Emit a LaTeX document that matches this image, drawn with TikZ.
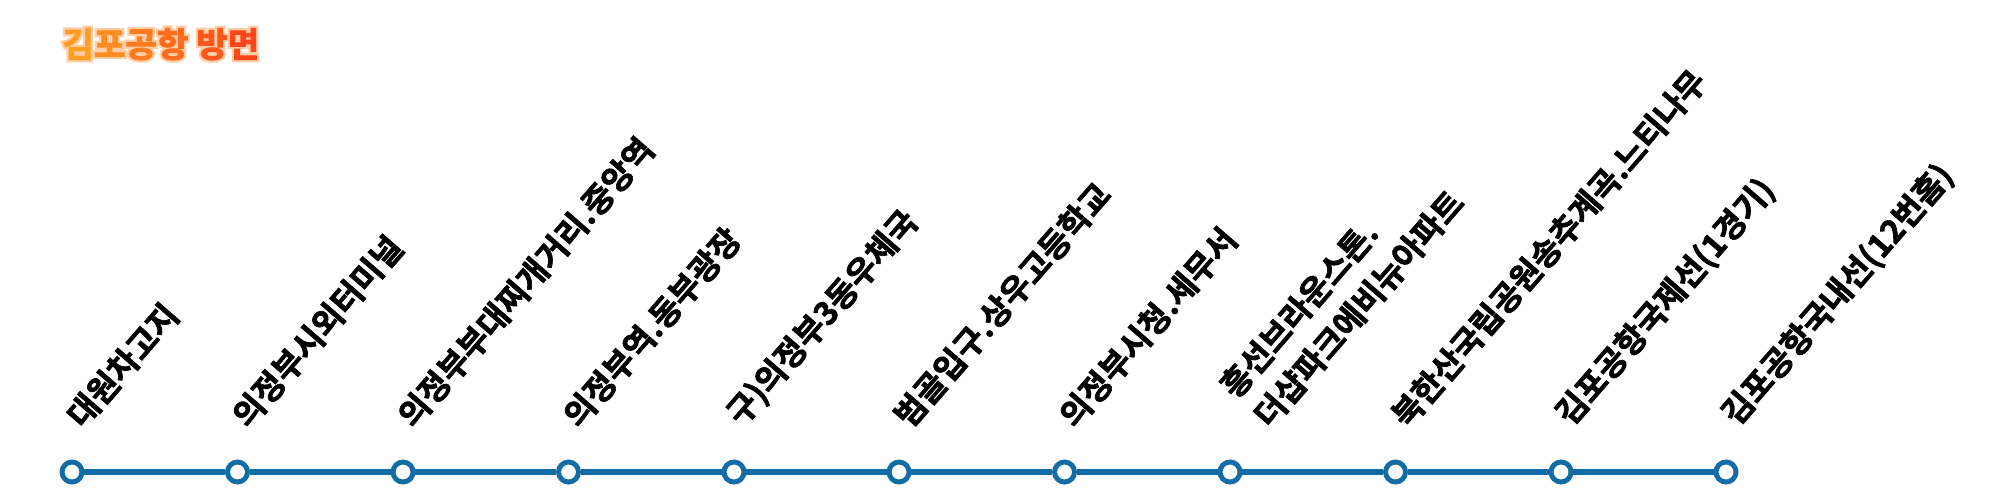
\documentclass[tikz,border=0pt]{standalone}
\usepackage{fontspec}
\setmainfont{Noto Sans CJK KR}[BoldFont=* Bold, BoldFeatures={FakeBold=2}]
\newfontfamily\glowface{Noto Sans CJK KR Bold}[FakeBold=16]
\newfontfamily\headface{Noto Sans CJK KR Bold}[FakeBold=3]
\definecolor{routeblue}{RGB}{18,108,166}
\definecolor{glowpeach}{RGB}{255,206,166}
\definecolor{ta}{RGB}{255,158,34}
\definecolor{tb}{RGB}{255,140,32}
\definecolor{tc}{RGB}{255,124,30}
\definecolor{td}{RGB}{255,108,30}
\definecolor{te}{RGB}{255,88,28}
\definecolor{tf}{RGB}{255,70,26}
\newcommand{\dirtitle}{\textcolor{ta}{김}\textcolor{tb}{포}\textcolor{tc}{공}\textcolor{td}{항} \textcolor{te}{방}\textcolor{tf}{면}}
\begin{document}
\begin{tikzpicture}[x=0.02cm,y=0.02cm,
    stop/.style={circle,draw=routeblue,fill=white,line width=2.8pt,minimum size=0.4cm,inner sep=0pt},
    route/.style={routeblue,line width=3.4pt},
    stn/.style={anchor=south west,rotate=49,inner sep=0pt,align=left,font=\fontsize{18.5}{25.5}\selectfont\bfseries},
    headfont/.style={anchor=base west,inner sep=0pt,font=\fontsize{19.5}{22}\selectfont\headface}]
    \fill [white] (0,0) rectangle (2000,-500);
    \useasboundingbox (0,0) rectangle (2000,-500);
    % title with glow
    \node [headfont,font=\fontsize{19.5}{22}\selectfont\glowface,text=glowpeach] (glow) at (62,-57) {김포공항 방면};
    \node [headfont] (title) at (62,-57) {\dirtitle};
    % stops
    \node [stop] (s0) at (72,-472) {};
    \node [stop] (s1) at (237.5,-472) {};
    \node [stop] (s2) at (403,-472) {};
    \node [stop] (s3) at (568.5,-472) {};
    \node [stop] (s4) at (734,-472) {};
    \node [stop] (s5) at (899,-472) {};
    \node [stop] (s6) at (1064.5,-472) {};
    \node [stop] (s7) at (1230,-472) {};
    \node [stop] (s8) at (1395.5,-472) {};
    \node [stop] (s9) at (1561,-472) {};
    \node [stop] (s10) at (1726,-472) {};
    \draw [route] (s0) -- (s1);
    \draw [route] (s1) -- (s2);
    \draw [route] (s2) -- (s3);
    \draw [route] (s3) -- (s4);
    \draw [route] (s4) -- (s5);
    \draw [route] (s5) -- (s6);
    \draw [route] (s6) -- (s7);
    \draw [route] (s7) -- (s8);
    \draw [route] (s8) -- (s9);
    \draw [route] (s9) -- (s10);
    % stop names
    \node [stn] (l0) at (85,-432) {대원차고지};
    \node [stn] (l1) at (250.5,-432) {의정부시외터미널};
    \node [stn] (l2) at (416,-432) {의정부부대찌개거리.중앙역};
    \node [stn] (l3) at (581.5,-432) {의정부역.동부광장};
    \node [stn] (l4) at (747,-432) {구)의정부3동우체국};
    \node [stn] (l5) at (912,-432) {범골입구.상우고등학교};
    \node [stn] (l6) at (1077.5,-432) {의정부시청.세무서};
    \node [stn] (l7) at (1272,-432) {흥선브라운스톤.\\더샵파크에비뉴아파트};
    \node [stn] (l8) at (1409.5,-432) {북한산국립공원송추계곡.느티나무};
    \node [stn] (l9) at (1576,-432) {김포공항국제선(1경기)};
    \node [stn] (l10) at (1742,-432) {김포공항국내선(12번홈)};
\end{tikzpicture}
\end{document}
